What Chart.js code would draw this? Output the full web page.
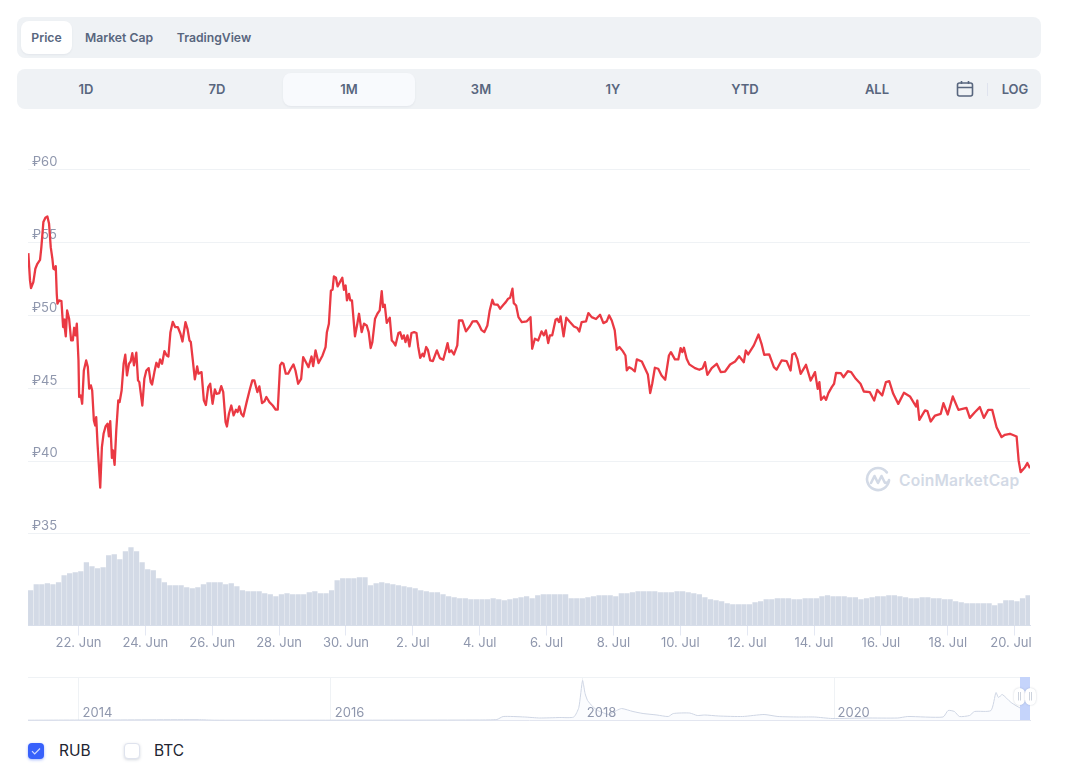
<!DOCTYPE html>
<html>
<head>
<meta charset="utf-8">
<script src="https://cdn.jsdelivr.net/npm/chart.js@4"></script>
<style>
    html, body { margin: 0; background: #fff; }
    body { position: relative; width: 1080px; height: 780px; overflow: hidden; font-family: Inter, sans-serif; }
    .panel { position: absolute; left: 17px; width: 1024px; background: #eff2f5; border-radius: 8px; }
    .tab { position: absolute; color: #58667e; font-size: 13px; font-weight: 600; line-height: 33px; text-align: center; border-radius: 8px; }
    .tab.small { font-size: 12.2px; }
    .tab.on { background: #fff; box-shadow: 0 1px 2px rgba(88,102,126,.08); }
    .range.on { background: #f8fafd; }
    canvas { position: absolute; left: 0; }
    .mark { position: absolute; left: 865px; top: 466px; }
    .brand { position: absolute; left: 899px; top: 470px; color: #d3dae6; font-size: 15.6px; font-weight: 600; line-height: 21px; letter-spacing: .2px; }
    .handle-band { position: absolute; left: 1020px; width: 10px; top: 677px; height: 43px; background: #c5d4fb; }
    .handle { position: absolute; top: 688px; width: 11px; height: 17px; background: #fff; border-radius: 6px; box-shadow: 0 0 2px rgba(88,102,126,.3); color: #a6b0c3; font-size: 7px; line-height: 17px; text-align: center; }
    .check { position: absolute; top: 743px; width: 16px; height: 16px; border-radius: 4px; box-sizing: border-box; }
    .check.on { left: 28px; background: #3861fb; box-shadow: 0 1px 3px rgba(56,97,251,.45); }
    .check.off { left: 124px; background: #fff; border: 1px solid #dfe3ee; box-shadow: 0 1px 3px rgba(88,102,126,.25); }
    .legend { position: absolute; top: 741px; font-size: 15.5px; line-height: 20px; color: #222531; }
</style>
</head>
<body>
    <div class="panel" style="top:17px;height:41px"></div>
    <div class="tab small on" style="left:21px;top:21px;width:51px">Price</div>
    <div class="tab small" style="left:79px;top:21px;width:80px">Market Cap</div>
    <div class="tab small" style="left:171px;top:21px;width:86px">TradingView</div>

    <div class="panel" style="top:69px;height:40px"></div>
    <div class="tab range" style="left:20px;top:73px;width:132px">1D</div>
    <div class="tab range" style="left:151px;top:73px;width:132px">7D</div>
    <div class="tab range on" style="left:283px;top:73px;width:132px">1M</div>
    <div class="tab range" style="left:415px;top:73px;width:132px">3M</div>
    <div class="tab range" style="left:547px;top:73px;width:132px">1Y</div>
    <div class="tab range" style="left:679px;top:73px;width:132px">YTD</div>
    <div class="tab range" style="left:811px;top:73px;width:132px">ALL</div>
    <svg style="position:absolute;left:956px;top:80px" width="18" height="18" viewBox="0 0 18 18" fill="none" stroke="#58667e" stroke-width="1.6">
        <rect x="1.5" y="3" width="15" height="13" rx="2"/>
        <path d="M1.5 7.5h15M5.5 1v3M12.5 1v3"/>
    </svg>
    <div style="position:absolute;left:987px;top:83px;width:1px;height:13px;background:#dfe3ee"></div>
    <div class="tab" style="left:995px;top:73px;width:40px">LOG</div>

    <svg class="mark" width="26" height="26" viewBox="0 0 26 26" fill="none" stroke="#d3dae6" stroke-width="2.6" stroke-linecap="round" stroke-linejoin="round">
        <path d="M24 14a11 11 0 1 1-2.2-7.6"/>
        <path d="M6 17l3.5-7 3.5 7 3.5-7 3 6c.8 1.4 2.5 1.2 4.5-1"/>
    </svg>
    <div class="brand">CoinMarketCap</div>

    <canvas id="main-chart" style="top:0" width="1080" height="660"></canvas>
    <canvas id="nav-chart" style="top:670px" width="1080" height="60"></canvas>

    <div class="handle-band"></div>
    <div class="handle" style="left:1014px">||</div>
    <div class="handle" style="left:1025px">||</div>

    <div class="check on">
        <svg width="16" height="16" viewBox="0 0 16 16" fill="none" stroke="#cfdafe" stroke-width="1.2"><path d="M4 8.2l2.7 2.7L12 5.5"/></svg>
    </div>
    <div class="legend" style="left:59px">RUB</div>
    <div class="check off"></div>
    <div class="legend" style="left:154px">BTC</div>

<script>
// days counted from 20 Jun 00:00
const priceDays = [
    .50,.55,.58,.65,.71,.77,.85,.89,.95,1.01,1.07,1.12,1.17,1.22,1.25,1.29,1.32,1.35,1.37,1.42,1.49,1.54,1.57,1.59,1.62,1.66,1.72,1.78,1.83,1.87,1.91,1.95,
    2.00,2.02,2.07,2.11,2.16,2.23,2.28,2.32,2.37,2.41,2.46,2.50,2.53,2.57,2.65,2.70,2.75,2.81,2.87,2.91,2.95,3.00,3.03,3.08,3.13,3.19,3.23,3.29,3.35,3.40,3.45,3.51,3.56,3.61,3.66,3.73,3.78,3.82,3.91,3.97,
    4.03,4.10,4.16,4.20,4.27,4.33,4.39,4.44,4.50,4.57,4.64,4.69,4.75,4.82,4.89,4.97,5.05,5.11,5.20,5.26,5.32,5.36,5.42,5.48,5.55,5.59,5.68,5.75,5.81,5.88,5.94,
    6.01,6.08,6.13,6.21,6.27,6.33,6.40,6.44,6.50,6.57,6.64,6.71,6.76,6.81,6.87,6.93,7.03,7.13,7.20,7.26,7.35,7.41,7.49,7.56,7.62,7.71,7.81,7.90,7.96,
    8.03,8.08,8.13,8.20,8.27,8.35,8.43,8.49,8.57,8.66,8.72,8.80,8.88,8.97,9.02,9.09,9.18,9.30,9.39,9.43,9.49,9.55,9.60,9.64,9.70,9.75,9.82,9.89,9.94,9.99,
    10.03,10.09,10.13,10.18,10.27,10.34,10.39,10.47,10.54,10.62,10.68,10.74,10.79,10.87,10.94,11.01,11.07,11.11,11.16,11.22,11.31,11.37,11.42,11.48,11.57,11.62,11.68,11.73,11.78,11.84,11.90,11.96,
    12.04,12.11,12.16,12.22,12.29,12.33,12.40,12.45,12.52,12.60,12.72,12.81,12.91,12.99,13.04,13.09,13.15,13.23,13.33,13.38,13.48,13.59,13.71,13.79,13.91,13.99,
    14.05,14.14,14.23,14.30,14.38,14.43,14.54,14.61,14.71,14.78,14.85,14.91,14.98,15.02,15.09,15.16,15.26,15.41,15.52,15.57,15.65,15.75,15.85,15.92,15.98,
    16.05,16.10,16.17,16.27,16.32,16.37,16.42,16.51,16.59,16.70,16.82,16.92,16.98,17.05,17.18,17.25,17.35,17.48,17.60,17.70,17.80,17.87,17.95,
    18.04,18.10,18.18,18.28,18.36,18.40,18.47,18.55,18.64,18.70,18.85,18.95,19.03,19.10,19.16,19.24,19.34,19.44,19.55,19.66,19.72,19.84,19.94,
    20.01,20.06,20.11,20.19,20.27,20.44,20.57,20.67,20.74,20.81,20.94,21.09,21.21,21.34,21.49,21.64,21.76,21.90,21.96,
    22.03,22.20,22.34,22.43,22.51,22.66,22.80,22.88,23.03,23.18,23.30,23.35,23.43,23.50,23.60,23.76,23.90,
    24.03,24.11,24.16,24.21,24.30,24.36,24.43,24.53,24.60,24.66,24.80,24.88,25.01,25.11,25.25,25.39,25.49,25.67,25.80,25.89,
    26.04,26.15,26.25,26.37,26.52,26.69,26.87,27.05,27.09,27.15,27.32,27.39,27.49,27.62,27.79,27.87,
    28.00,28.15,28.32,28.56,28.66,28.81,28.96,29.08,29.21,29.33,29.46,29.61,29.71,29.86,
    30.06,30.12,30.18,30.31,30.38,30.46
];
const priceValues = [
    54.26,52.39,51.86,52.27,53.19,53.53,53.80,54.67,56.39,56.69,56.78,56.27,54.67,53.87,53.19,53.14,53.37,51.47,50.79,51.02,50.97,49.19,49.69,49.14,48.55,50.33,49.76,48.27,48.27,49.14,48.62,49.42,
    46.90,44.39,44.50,43.93,46.21,46.90,46.44,44.96,45.19,44.84,42.78,42.44,43.01,41.18,38.17,40.96,41.87,42.37,42.56,41.69,42.74,40.22,40.73,39.74,42.10,44.16,44.04,44.84,46.67,47.29,45.87,46.67,46.83,47.40,46.56,47.43,45.53,45.41,43.81,45.64,
    46.21,46.37,45.41,45.25,46.10,46.74,46.44,46.97,46.67,47.54,47.24,47.17,48.84,49.55,49.19,49.19,48.73,48.20,49.53,49.07,48.27,48.16,46.90,45.60,46.49,45.99,46.10,44.16,43.84,45.07,45.30,
    43.93,44.91,44.61,44.66,45.14,44.72,42.67,42.37,43.24,43.81,43.13,43.52,43.36,43.75,43.24,43.06,44.04,44.96,45.53,45.53,44.73,45.12,43.97,44.09,44.39,44.04,43.81,43.52,43.52,
    46.56,46.74,46.67,45.99,45.99,46.33,46.63,46.21,45.30,45.64,47.13,46.79,46.44,47.17,46.51,47.59,46.72,47.24,47.81,48.84,49.42,51.70,51.75,52.66,52.57,51.98,52.27,52.57,51.75,52.04,
    51.02,51.47,51.02,51.02,48.55,49.42,50.10,48.84,49.42,49.30,48.84,47.75,48.16,49.76,50.10,50.33,51.66,50.56,50.72,49.48,49.83,48.27,48.16,47.93,48.78,48.84,48.39,48.62,48.16,48.62,47.86,48.78,
    48.84,48.78,47.86,47.08,47.36,47.18,47.82,47.63,46.90,46.86,47.59,47.06,46.95,47.63,48.09,47.47,47.59,47.31,47.93,49.64,49.64,48.89,49.26,49.58,49.60,49.30,
    49.00,48.84,49.30,50.33,51.06,50.74,50.72,50.45,50.72,50.90,51.13,51.20,51.82,50.83,50.67,49.87,49.53,49.58,49.87,47.70,48.39,48.27,48.89,48.62,48.96,
    48.09,48.62,48.62,49.69,49.76,49.53,49.92,48.55,49.83,49.53,49.23,49.12,48.89,49.53,49.58,50.15,49.87,49.74,50.03,49.46,49.58,49.99,49.64,
    48.96,47.63,47.82,47.54,47.24,46.22,46.44,46.33,46.15,46.97,46.83,46.33,45.94,44.66,45.30,46.40,46.33,45.87,45.58,47.24,47.47,46.97,46.97,
    47.75,47.47,47.77,47.02,46.63,46.37,46.26,46.37,46.78,45.91,46.37,46.67,46.10,46.14,46.62,46.83,47.19,46.78,47.58,
    47.31,47.93,48.68,48.04,47.29,47.31,46.44,46.26,46.90,46.85,46.21,47.31,47.40,47.01,45.98,46.60,45.52,
    46.10,44.95,45.41,44.20,44.43,44.20,44.66,45.07,45.30,46.05,46.03,45.75,46.16,46.10,45.64,45.30,44.77,44.72,44.15,44.88,
    44.50,45.41,45.48,44.61,43.92,44.68,44.43,43.74,44.15,42.83,43.47,43.42,42.71,43.12,43.24,43.97,
    43.19,44.43,43.51,43.65,42.96,43.35,43.70,42.96,43.51,43.51,42.32,41.64,41.80,41.87,
    41.68,40.04,39.24,39.58,39.86,39.51
];

// one bar every 4 hours, relative volume
const volumeFirstDay = 0.57;
const volumeStep = 1 / 6;
const volumeValues = [
    35,41,41,42,41,43,50,52,53,54,63,59,57,58,70,71,66,74,78,74,63,56,55,47,43,40,40,40,38,37,
    38,41,43,43,43,41,42,39,35,34,34,34,32,31,29,31,32,31,31,31,33,34,32,32,35,45,47,47,47,48,
    48,40,42,43,42,41,40,39,38,37,35,34,33,33,31,29,28,27,27,26,26,26,26,27,26,25,26,27,28,29,
    27,30,31,31,31,31,31,27,27,27,28,29,30,30,30,29,32,32,33,34,34,34,34,33,33,33,34,34,33,32,
    31,28,26,25,24,22,21,21,21,21,23,24,26,26,27,27,27,26,26,27,27,27,29,30,29,29,29,28,28,26,
    27,28,29,29,30,30,29,28,27,27,28,28,27,27,26,26,24,23,22,22,22,22,22,20,22,25,25,24,27,30
];

const priceTicks = [35, 40, 45, 50, 55, 60];
const dateTicks = [2, 4, 6, 8, 10, 12, 14, 16, 18, 20, 22, 24, 26, 28, 30];
const dateLabels = ["22. Jun", "24. Jun", "26. Jun", "28. Jun", "30. Jun", "2. Jul", "4. Jul", "6. Jul", "8. Jul", "10. Jul", "12. Jul", "14. Jul", "16. Jul", "18. Jul", "20. Jul"];

// all time overview under the chart
const navYears = [2013.6,2014.17,2014.95,2015.08,2016,2017.18,2017.32,2017.37,2017.54,2017.66,2017.82,2017.93,2017.97,2018,2018.02,2018.04,2018.08,2018.12,2018.21,2018.27,2018.31,2018.4,2018.48,2018.59,2018.68,2018.72,2018.85,2018.91,2018.97,2019.08,2019.27,2019.44,2019.55,2019.71,2019.84,2019.98,2020.25,2020.5,2020.58,2020.86,2020.9,2020.95,2020.99,2021.07,2021.11,2021.24,2021.28,2021.3,2021.33,2021.4,2021.48,2021.55];
const navValues = [.3,.5,.8,.3,.3,.5,1,4,3.5,2.5,3,3.5,13,40,27,20,14,10,6,10,12,9,7,5.5,4,7,7.5,5,5.5,4.5,4,6,4,3.5,3.5,2,2.5,2.5,4,3.5,10,9,4,5,9,10,28,23,26,18,12,10];
const navTicks = [2014, 2016, 2018, 2020];

Chart.defaults.font.family = "Inter, sans-serif";
Chart.defaults.font.size = 13;
Chart.defaults.color = "#8f97ad";
Chart.defaults.animation = false;

const GRID = "#eff2f5";

new Chart(document.getElementById("main-chart"), {
    type: "line",
    data: {
        datasets: [{
            type: "line",
            label: "Price",
            data: priceDays.map((d, i) => ({ x: d, y: priceValues[i] })),
            borderColor: "#ea3943",
            borderWidth: 2.3,
            borderJoinStyle: "round",
            pointRadius: 0,
            tension: 0,
            yAxisID: "y",
            order: 1
        }, {
            type: "bar",
            label: "Volume",
            data: volumeValues.map((v, i) => ({ x: volumeFirstDay + i * volumeStep, y: v })),
            backgroundColor: "#d3dae6",
            barThickness: 4.6,
            yAxisID: "yVol",
            order: 2
        }]
    },
    options: {
        responsive: false,
        events: [],
        layout: { padding: { left: 28, right: 50, top: 160.4, bottom: 0 } },
        plugins: { legend: { display: false }, tooltip: { enabled: false } },
        scales: {
            x: {
                type: "linear",
                offset: false,
                min: 0.49,
                max: 30.46,
                afterBuildTicks: s => { s.ticks = dateTicks.map(value => ({ value })); },
                afterFit: s => { s.height = 34.5; },
                grid: { offset: false, drawOnChartArea: false, tickLength: 10, tickColor: "#e4e8f3" },
                border: { color: "#dbe0ec" },
                ticks: {
                    autoSkip: false,
                    maxRotation: 0,
                    padding: 0,
                    // the last label sits a little to the left so it stays inside the plot
                    callback: (v, i) => i === dateLabels.length - 1 ? dateLabels[i] + "  " : dateLabels[i]
                }
            },
            y: {
                min: 28.72,
                max: 60.62,
                afterBuildTicks: s => { s.ticks = priceTicks.map(value => ({ value })); },
                afterFit: s => { s.width = 0; },
                grid: { color: GRID, drawTicks: false },
                border: { display: false },
                ticks: {
                    mirror: true,
                    padding: 4,
                    labelOffset: -7.5,
                    callback: v => "₽" + v
                }
            },
            yVol: { display: false, min: 0, max: 465.1 }
        }
    }
});

new Chart(document.getElementById("nav-chart"), {
    type: "line",
    data: {
        datasets: [{
            label: "All time",
            data: navYears.map((y, i) => ({ x: y, y: navValues[i] })),
            borderColor: "#cfd6e4",
            backgroundColor: "#fbfcfe",
            borderWidth: 1,
            pointRadius: 0,
            tension: 0.2,
            fill: "start"
        }]
    },
    options: {
        responsive: false,
        events: [],
        layout: { padding: { left: 28, right: 50, top: 7, bottom: 0 } },
        plugins: { legend: { display: false }, tooltip: { enabled: false } },
        scales: {
            x: {
                type: "linear",
                min: 2013.6,
                max: 2021.55,
                afterBuildTicks: s => { s.ticks = navTicks.map(value => ({ value })); },
                afterFit: s => { s.height = 9.5; },
                grid: { color: GRID, drawTicks: false },
                border: { color: "#dfe3ee" },
                ticks: {
                    autoSkip: false,
                    maxRotation: 0,
                    mirror: true,
                    padding: 0,
                    labelOffset: 19,
                    z: 1,
                    callback: v => String(v)
                }
            },
            y: {
                min: 0,
                max: 43.5,
                afterBuildTicks: s => { s.ticks = [{ value: 43.5 }]; },
                afterFit: s => { s.width = 0; },
                grid: { color: GRID, drawTicks: false },
                border: { display: false },
                ticks: { display: false }
            }
        }
    }
});
</script>
</body>
</html>
